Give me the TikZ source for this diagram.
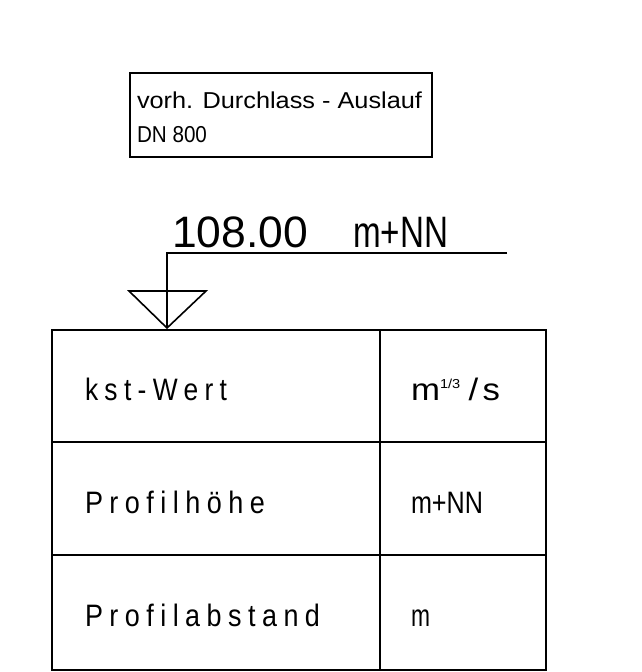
\documentclass[tikz,border=0pt]{standalone}
\usepackage{fontspec}
\usepackage{graphicx}
\setmainfont{Liberation Sans}
\newfontfamily\cadfont[FakeStretch=0.8]{Liberation Sans}
\newfontfamily\cadplain{Liberation Sans}
\newfontfamily\cadwide[FakeStretch=0.75,LetterSpace=18]{Liberation Sans}
\newcommand\fitw[2]{\resizebox{#1}{\height}{#2}}
\begin{document}
\begin{tikzpicture}[x=1pt,y=-1pt,line width=1.6pt,
  txt/.style={anchor=base west,inner sep=0pt,outer sep=0pt},
  frame/.style={draw,line width=1.7pt,inner sep=0pt,anchor=north west}]
\useasboundingbox (0,0) rectangle (641,672);
% label box
\node[frame,minimum width=302pt,minimum height=84pt] (box) at (129,72) {};
\node[txt] (l1) at (137,108) {\fontsize{23}{23}\cadfont\fitw{285pt}{vorh. Durchlass - Auslauf}};
\node[txt] (l2) at (137,142) {\fontsize{23}{23}\cadfont\fitw{70pt}{DN 800}};
% height mark
\node[txt] (hval) at (172,247) {\fontsize{44}{44}\cadplain\fitw{136pt}{108.00}};
\node[txt] (hunit) at (353,247) {\fontsize{44}{44}\cadfont\fitw{95pt}{m+NN}};
\coordinate (lr) at (507,253);
\coordinate (corner) at (167,253);
\coordinate (tip) at (167,328);
\coordinate (tl) at (129,291);
\coordinate (tr) at (206,291);
\draw (lr) -- (corner) -- (tip);
\draw[line join=miter] (tl) -- (tr) -- (tip) -- cycle;
% table
\node[frame,minimum width=494pt,minimum height=340pt] (table) at (51,329) {};
\coordinate (c1) at (380,329);
\coordinate (c2) at (380,669);
\coordinate (r1l) at (51,442);
\coordinate (r1r) at (545,442);
\coordinate (r2l) at (51,555);
\coordinate (r2r) at (545,555);
\draw (c1) -- (c2);
\draw (r1l) -- (r1r);
\draw (r2l) -- (r2r);
\node[txt] (t1) at (85,400) {\fontsize{31}{31}\cadwide\fitw{142pt}{kst-Wert}};
\node[txt] (t2) at (85,513) {\fontsize{31}{31}\cadwide\fitw{180pt}{Profilhöhe}};
\node[txt] (t3) at (85,626) {\fontsize{31}{31}\cadwide\fitw{235pt}{Profilabstand}};
\node[txt] (u1) at (411,400) {\fontsize{31}{31}\cadfont\fitw{89pt}{m\raisebox{12pt}{\fontsize{13}{13}\selectfont 1/3}\hspace{6pt}/\hspace{3pt}s}};
\node[txt] (u2) at (411,513) {\fontsize{31}{31}\cadfont\fitw{72pt}{m+NN}};
\node[txt] (u3) at (411,626) {\fontsize{31}{31}\cadfont\fitw{19pt}{m}};
\end{tikzpicture}
\end{document}
